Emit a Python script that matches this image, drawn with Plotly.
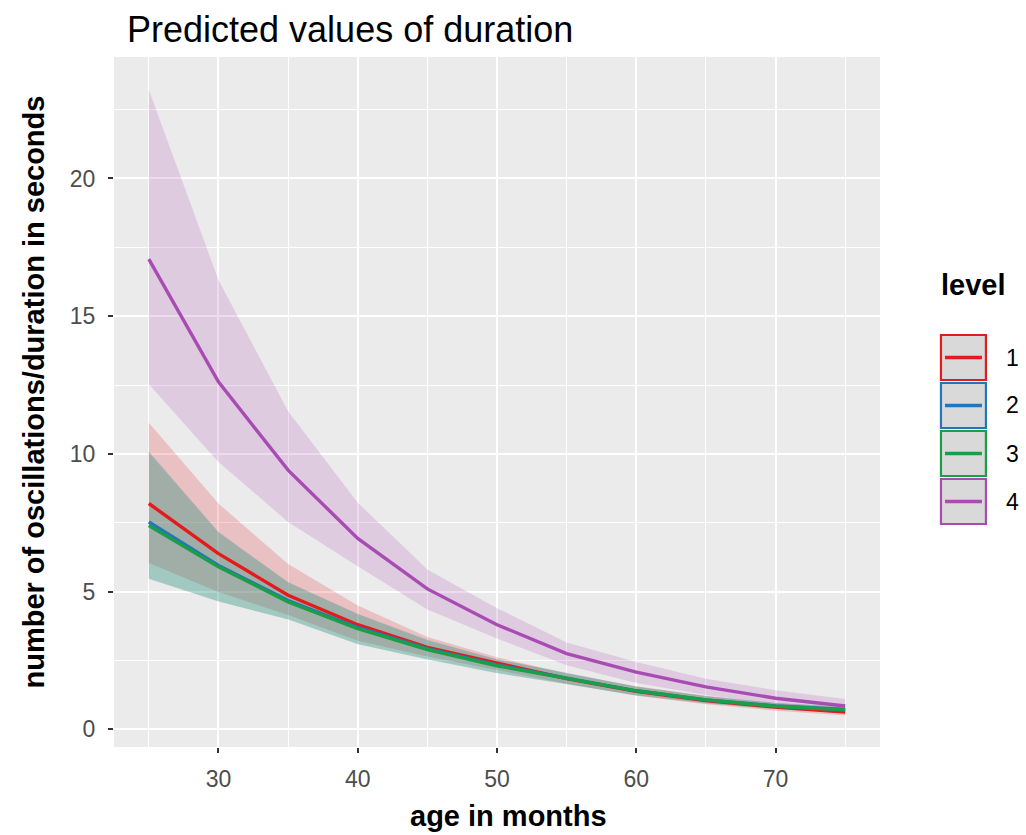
import plotly.graph_objects as go

# Predicted durations by age for each level, with confidence bands
age = [25, 30, 35, 40, 45, 50, 55, 60, 65, 70, 75]
levels = ["1", "2", "3", "4"]

pred = {
    "1": [8.20, 6.38, 4.87, 3.80, 2.98, 2.40, 1.84, 1.38, 1.05, 0.81, 0.63],
    "2": [7.53, 5.95, 4.68, 3.70, 2.93, 2.34, 1.86, 1.40, 1.07, 0.85, 0.72],
    "3": [7.40, 5.90, 4.63, 3.66, 2.90, 2.31, 1.85, 1.40, 1.07, 0.84, 0.71],
    "4": [17.07, 12.62, 9.41, 6.93, 5.10, 3.80, 2.75, 2.08, 1.54, 1.13, 0.85],
}
upper = {
    "1": [11.13, 8.20, 6.00, 4.50, 3.35, 2.62, 2.03, 1.57, 1.22, 0.96, 0.78],
    "2": [10.10, 7.17, 5.35, 4.20, 3.25, 2.55, 2.06, 1.56, 1.21, 0.96, 0.83],
    "3": [10.05, 7.15, 5.33, 4.18, 3.24, 2.54, 2.05, 1.55, 1.20, 0.95, 0.82],
    "4": [23.22, 16.31, 11.55, 8.23, 5.80, 4.40, 3.15, 2.45, 1.84, 1.42, 1.10],
}
lower = {
    "1": [6.04, 4.99, 4.15, 3.22, 2.65, 2.15, 1.66, 1.22, 0.91, 0.68, 0.50],
    "2": [5.48, 4.65, 4.00, 3.10, 2.55, 2.05, 1.65, 1.24, 0.95, 0.74, 0.60],
    "3": [5.46, 4.64, 3.99, 3.09, 2.54, 2.04, 1.64, 1.23, 0.94, 0.73, 0.59],
    "4": [12.53, 9.71, 7.53, 5.92, 4.35, 3.30, 2.33, 1.68, 1.25, 0.93, 0.64],
}

line_colors = {"1": "#E41A1C", "2": "#2377B8", "3": "#1B9E48", "4": "#A84CB3"}
band_alpha = 0.2

title_text = "Predicted values of duration"
x_title = "age in months"
y_title = "number of oscillations/duration in seconds"
legend_title = "level"

W, H = 1026, 835
L, R, T, B = 113.5, 880.0, 57.0, 747.0


def rgba(hex_color, a):
    h = hex_color.lstrip("#")
    r, g, b = int(h[0:2], 16), int(h[2:4], 16), int(h[4:6], 16)
    return f"rgba({r},{g},{b},{a})"


def px_x(px):
    return (px - L) / (R - L)


def px_y(py):
    return (B - py) / (B - T)


fig = go.Figure()

# confidence ribbons first
for lv in levels:
    fig.add_trace(go.Scatter(x=age, y=upper[lv], mode="lines", line=dict(width=0),
                             showlegend=False, hoverinfo="skip"))
    fig.add_trace(go.Scatter(x=age, y=lower[lv], mode="lines", line=dict(width=0),
                             fill="tonexty", fillcolor=rgba(line_colors[lv], band_alpha),
                             showlegend=False, hoverinfo="skip"))

# prediction lines on top
for lv in levels:
    fig.add_trace(go.Scatter(x=age, y=pred[lv], mode="lines",
                             line=dict(color=line_colors[lv], width=3.4),
                             name=lv, showlegend=False))

axis_common = dict(
    showgrid=True, gridcolor="white", gridwidth=2.4, zeroline=False,
    ticks="outside", ticklen=5, tickwidth=2, tickcolor="#333333",
    tickfont=dict(family="Liberation Sans, Arial", size=23, color="#4D4D4D"),
    showline=False,
)

fig.update_xaxes(range=[22.5, 77.5], tickvals=[30, 40, 50, 60, 70],
                 minor=dict(showgrid=True, gridcolor="white", gridwidth=1.2,
                            tickvals=[25, 35, 45, 55, 65, 75], ticks=""),
                 ticklabelstandoff=6, **axis_common)
fig.update_yaxes(range=[-0.64, 24.41], tickvals=[0, 5, 10, 15, 20],
                 minor=dict(showgrid=True, gridcolor="white", gridwidth=1.2,
                            tickvals=[2.5, 7.5, 12.5, 17.5, 22.5], ticks=""),
                 ticklabelstandoff=8, **axis_common)

shapes = []
annotations = []

# legend: boxed keys with a line inside
key_w, key_h, key_gap = 45, 45, 48
key_x0 = 941
key_y0 = 335
for i, lv in enumerate(levels):
    y0 = key_y0 + i * key_gap
    shapes.append(dict(type="rect", xref="paper", yref="paper",
                       x0=px_x(key_x0), x1=px_x(key_x0 + key_w),
                       y0=px_y(y0 + key_h), y1=px_y(y0),
                       fillcolor="#D9D9D9", line=dict(color=line_colors[lv], width=2.2)))
    shapes.append(dict(type="line", xref="paper", yref="paper",
                       x0=px_x(key_x0 + 4), x1=px_x(key_x0 + key_w - 4),
                       y0=px_y(y0 + key_h / 2), y1=px_y(y0 + key_h / 2),
                       line=dict(color=line_colors[lv], width=3.4)))
    annotations.append(dict(text=lv, xref="paper", yref="paper",
                            x=px_x(1004), y=px_y(y0 + key_h / 2),
                            xanchor="left", yanchor="middle", showarrow=False,
                            font=dict(family="Liberation Sans, Arial", size=23, color="black")))

annotations.append(dict(text=f"<b>{legend_title}</b>", xref="paper", yref="paper",
                        x=px_x(939), y=px_y(285), xanchor="left", yanchor="middle",
                        showarrow=False,
                        font=dict(family="Liberation Sans, Arial", size=29, color="black")))

# axis titles
annotations.append(dict(text=f"<b>{x_title}</b>", xref="paper", yref="paper",
                        x=px_x(508), y=px_y(816), xanchor="center", yanchor="middle",
                        showarrow=False,
                        font=dict(family="Liberation Sans, Arial", size=29, color="black")))
annotations.append(dict(text=f"<b>{y_title}</b>", xref="paper", yref="paper",
                        x=px_x(33), y=px_y(392), xanchor="center", yanchor="middle",
                        textangle=-90, showarrow=False,
                        font=dict(family="Liberation Sans, Arial", size=29, color="black")))

fig.update_layout(
    width=W, height=H,
    margin=dict(l=L, r=W - R, t=T, b=H - B),
    paper_bgcolor="white", plot_bgcolor="#EBEBEB",
    title=dict(text=title_text, xref="container", yref="container",
               x=127 / W, xanchor="left", y=1 - 29 / H, yanchor="middle",
               font=dict(family="Liberation Sans, Arial", size=36, color="black")),
    shapes=shapes, annotations=annotations,
    showlegend=False,
)

fig.write_html("out.html")
